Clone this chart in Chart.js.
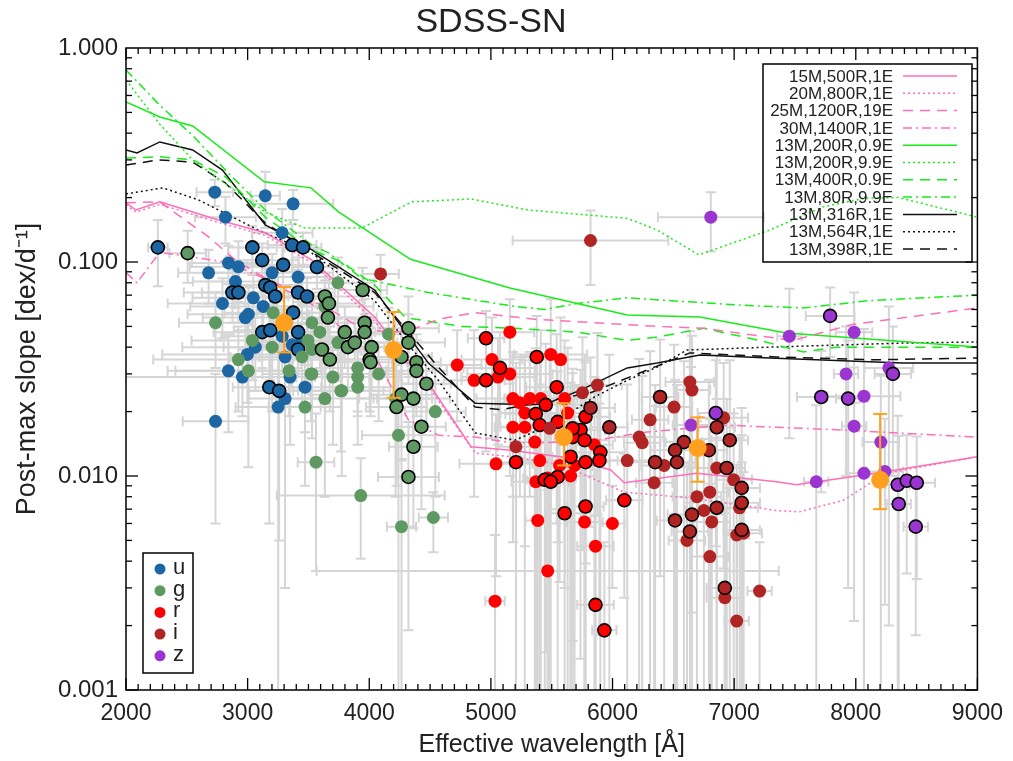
<!DOCTYPE html>
<html>
<head>
<meta charset="utf-8">
<script src="https://cdn.jsdelivr.net/npm/chart.js@4/dist/chart.umd.min.js"></script>
<style>
html,body{margin:0;padding:0;background:#fff;}
#c{display:block;}
</style>
</head>
<body>
<canvas id="c" width="1013" height="761"></canvas>
<script>
// ---------------- DATA ----------------
const titleText = 'SDSS-SN';
const xTitle = 'Effective wavelength [Å]';
const yTitle = 'Post-max slope [dex/d⁻¹]';
const xTickValues = [2000, 3000, 4000, 5000, 6000, 7000, 8000, 9000];
const xTickLabels = ['2000', '3000', '4000', '5000', '6000', '7000', '8000', '9000'];
const yTickValues = [0.001, 0.01, 0.1, 1];
const yTickLabels = ['0.001', '0.010', '0.100', '1.000'];

// band points: [wavelength, slope, wavelength error, slope error, ringed]
const uBand = [
 [2730,0.212,150,0.03,0],[3145,0.204,120,0.06,0],[3374,0.187,330,0.03,0],[2818,0.162,250,0.04,0],
 [2262,0.117,80,0.04,1],[3039,0.117,200,0.03,1],[3120,0.102,300,0.02,1],[3284,0.137,250,0.04,0],
 [3366,0.120,200,0.03,1],[3456,0.117,150,0.02,1],[3570,0.0947,200,0.02,1],[3292,0.097,300,0.02,1],
 [3202,0.089,500,0.02,0],[2924,0.095,400,0.03,0],[2842,0.099,300,0.02,0],[2679,0.089,250,0.025,0],
 [2900,0.081,350,0.02,0],[2875,0.072,400,0.02,1],[2924,0.072,300,0.02,1],[2793,0.064,450,0.02,0],
 [3047,0.068,500,0.02,0],[3145,0.078,300,0.015,1],[3186,0.076,250,0.015,1],[3227,0.069,400,0.02,1],
 [3415,0.072,300,0.02,1],[3488,0.069,200,0.015,1],[3415,0.085,250,0.02,0],[3128,0.062,600,0.02,0],
 [3006,0.057,500,0.02,0],[2981,0.055,350,0.015,0],[3374,0.058,300,0.02,1],[3120,0.047,400,0.015,1],
 [3186,0.048,300,0.02,1],[3284,0.045,500,0.015,0],[3415,0.047,250,0.015,1],[3447,0.043,400,0.02,0],
 [3063,0.040,600,0.015,0],[3366,0.041,300,0.015,0],[3415,0.039,350,0.01,1],[3308,0.036,450,0.015,0],
 [2998,0.037,700,0.015,0],[2842,0.031,500,0.015,0],[2957,0.029,1200,0.01,0],[3178,0.026,300,0.02,1],
 [3259,0.025,250,0.02,1],[3349,0.029,400,0.015,0],[3308,0.023,300,0.02,0],[3251,0.021,350,0.02,0],
 [3472,0.026,300,0.01,0],[2736,0.018,270,0.012,0]
];
const gBand = [
 [2507,0.110,150,0.03,1],[2736,0.052,300,0.02,0],[3210,0.058,400,0.02,0],[3496,0.043,300,0.015,0],
 [3039,0.043,500,0.015,0],[3202,0.040,400,0.02,0],[3447,0.036,350,0.015,0],[3529,0.039,300,0.015,0],
 [2924,0.035,700,0.015,0],[3006,0.031,600,0.02,0],[3472,0.021,300,0.012,0],[3635,0.023,400,0.015,0],
 [3529,0.030,350,0.015,0],[3701,0.029,300,0.015,0],[3774,0.025,400,0.015,0],[3905,0.026,300,0.012,0],
 [3905,0.029,350,0.01,0],[3635,0.069,300,0.02,1],[3660,0.055,400,0.02,1],[3799,0.047,250,0.015,1],
 [3824,0.040,300,0.015,1],[3962,0.052,250,0.015,1],[3962,0.047,300,0.01,1],[4020,0.040,250,0.015,1],
 [3611,0.039,350,0.015,1],[3676,0.035,300,0.015,1],[4003,0.035,300,0.015,1],[3946,0.074,200,0.02,1],
 [3881,0.042,350,0.012,1],[3742,0.080,300,0.025,0],[3635,0.062,400,0.02,0],[3529,0.052,350,0.015,0],
 [3594,0.047,300,0.015,0],[3742,0.042,250,0.012,0],[3905,0.032,300,0.012,0],[3668,0.064,250,0.02,1],
 [4011,0.034,300,0.015,1],[4322,0.049,250,0.02,1],[4322,0.042,300,0.015,1],[4159,0.046,200,0.015,0],
 [4265,0.036,250,0.015,1],[4388,0.034,200,0.012,1],[4388,0.031,250,0.012,1],[4470,0.027,200,0.01,1],
 [3521,0.030,400,0.012,0],[4077,0.030,300,0.012,0],[3766,0.025,350,0.012,0],[4216,0.023,300,0.015,0],
 [4265,0.024,250,0.012,1],[4363,0.023,300,0.01,1],[4224,0.021,250,0.012,1],[4543,0.020,250,0.012,0],
 [4429,0.017,200,0.01,1],[4240,0.0155,300,0.015,0],[4363,0.0137,200,0.008,1],[3562,0.0116,150,0.008,0],
 [4322,0.0099,250,0.008,1],[3930,0.0081,690,0.004,0],[4527,0.0064,120,0.002,0],[4265,0.0058,120,0.006,0],
 [3341,0.031,300,0.012,0]
];
const rBand = [
 [4960,0.044,150,0.015,1],[5156,0.047,200,0.02,0],[4723,0.033,200,0.015,0],[4862,0.028,250,0.02,0],
 [4960,0.028,200,0.015,1],[5009,0.035,250,0.02,0],[5075,0.032,300,0.015,1],[5156,0.030,350,0.02,0],
 [5058,0.029,300,0.015,0],[5377,0.036,200,0.02,1],[5492,0.037,300,0.03,0],[5573,0.035,200,0.02,0],
 [5541,0.026,250,0.02,1],[5181,0.023,300,0.015,0],[5320,0.023,200,0.015,0],[5410,0.023,300,0.025,0],
 [5238,0.022,200,0.014,0],[5369,0.0195,250,0.02,1],[5451,0.0215,300,0.02,1],[5279,0.0197,200,0.015,0],
 [5181,0.0169,150,0.012,0],[5279,0.0169,200,0.02,0],[5402,0.0173,150,0.02,1],[5549,0.0179,200,0.013,1],
 [5631,0.0197,250,0.02,0],[5737,0.0164,200,0.015,1],[5672,0.0152,150,0.015,1],[5770,0.0147,200,0.02,1],
 [5851,0.0140,150,0.015,0],[5900,0.0129,200,0.015,1],[5892,0.0118,150,0.01,1],[5778,0.0116,200,0.015,1],
 [5688,0.0112,150,0.015,0],[5565,0.0112,200,0.008,0],[5206,0.0116,150,0.012,1],[5042,0.0114,300,0.008,0],
 [5402,0.0118,150,0.015,0],[5778,0.0189,200,0.015,1],[5467,0.0098,200,0.015,0],[5549,0.0099,150,0.012,1],
 [5606,0.023,250,0.02,0],[5672,0.0167,150,0.015,1],[5361,0.0144,200,0.02,0],[5655,0.0123,150,0.015,1],
 [5443,0.0096,150,0.012,1],[5369,0.0094,200,0.015,0],[5492,0.0094,150,0.01,1],[5655,0.0100,200,0.012,0],
 [5606,0.0067,150,0.008,1],[5778,0.0072,150,0.008,1],[5385,0.0062,100,0.008,0],[5770,0.0061,150,0.008,0],
 [5999,0.0060,100,0.003,0],[5860,0.0047,150,0.006,0],[5467,0.0036,1900,0.005,0],[5034,0.0026,80,0.0027,0],
 [5860,0.0025,150,0.004,1],[5933,0.0019,100,0.003,1],[6097,0.0077,150,0.005,1]
];
const iBand = [
 [4093,0.088,150,0.02,0],[5819,0.126,640,0.048,0],[5819,0.0208,200,0.015,1],[5974,0.0169,150,0.02,1],
 [5876,0.0266,200,0.02,0],[5753,0.0245,150,0.02,0],[5483,0.0167,200,0.02,0],[5206,0.0137,150,0.02,0],
 [6121,0.0118,200,0.015,0],[6244,0.0143,150,0.015,0],[6219,0.0152,200,0.02,0],[6309,0.0183,150,0.02,0],
 [6350,0.0116,200,0.015,1],[6391,0.0234,150,0.02,1],[6506,0.021,150,0.02,0],[6636,0.0275,200,0.02,0],
 [6653,0.0252,150,0.02,0],[6857,0.0169,150,0.02,1],[6914,0.0187,200,0.015,0],[6587,0.0144,150,0.02,1],
 [6514,0.0132,200,0.015,1],[6530,0.0116,150,0.015,1],[6792,0.0132,150,0.015,1],[6424,0.0112,200,0.012,0],
 [6342,0.0093,150,0.012,0],[6964,0.0147,150,0.02,1],[6857,0.0109,200,0.012,0],[6939,0.0109,150,0.012,1],
 [6996,0.0096,150,0.01,0],[7062,0.0088,150,0.012,1],[7062,0.0075,150,0.008,1],[7045,0.0071,150,0.008,0],
 [7062,0.0056,150,0.006,1],[7021,0.0053,100,0.006,0],[7078,0.0054,150,0.005,0],[6800,0.0084,150,0.01,0],
 [6694,0.0080,200,0.01,0],[6751,0.0069,150,0.008,0],[6653,0.0066,200,0.008,1],[6857,0.0071,150,0.008,1],
 [6816,0.0061,150,0.007,0],[6514,0.0062,150,0.007,1],[6636,0.0055,150,0.006,1],[6612,0.0050,150,0.006,0],
 [6800,0.0042,150,0.005,0],[6923,0.0030,150,0.004,1],[6923,0.0027,150,0.004,0],[7021,0.0021,100,0.003,0],
 [7209,0.0029,100,0.002,0]
];
const zBand = [
 [6808,0.162,435,0.05,0],[7789,0.056,200,0.02,1],[7454,0.045,100,0.03,0],[7986,0.047,150,0.025,0],
 [7920,0.030,100,0.02,0],[8272,0.032,200,0.03,0],[8305,0.030,150,0.02,1],[7716,0.0234,200,0.015,1],
 [7937,0.0230,100,0.02,1],[8067,0.0236,300,0.025,0],[7986,0.0171,100,0.015,0],[8206,0.0144,150,0.015,0],
 [7675,0.0094,100,0.012,0],[8067,0.0103,150,0.012,0],[8239,0.0105,150,0.008,0],[8345,0.0091,100,0.01,1],
 [8419,0.0095,100,0.006,1],[8501,0.0093,150,0.006,1],[8353,0.0074,100,0.008,1],[8493,0.0058,100,0.004,1],
 [6849,0.0197,150,0.015,1],[6645,0.0173,150,0.015,0]
];
// band averages
const avgWave  = [3300, 4200, 5600, 6700, 8200];
const avgSlope = [0.052, 0.0388, 0.0152, 0.0135, 0.0096];
const avgLow   = [0.0378, 0.0232, 0.0112, 0.0094, 0.0070];
const avgHigh  = [0.0765, 0.0584, 0.0219, 0.0188, 0.0195];

// model curves: [wavelength, slope]
const m15M500R1E = [[2000,0.189],[2082,0.175],[2278,0.191],[2760,0.157],[3145,0.137],[3529,0.102],[4044,0.0553],[4298,0.036],[4486,0.0272],[4837,0.0137],[5165,0.0132],[5573,0.0123],[5982,0.0107],[6097,0.0093],[6694,0.0103],[7348,0.0094],[7511,0.0091],[8165,0.0103],[9000,0.0123]];
const m20M800R1E = [[2000,0.185],[2082,0.171],[2278,0.186],[2760,0.153],[3145,0.133],[3529,0.099],[4044,0.053],[4298,0.0345],[4486,0.0263],[4870,0.0128],[5222,0.0122],[5573,0.0113],[6097,0.0084],[6636,0.0079],[7348,0.0069],[7536,0.0068],[7896,0.0077],[8247,0.0103],[9000,0.0123]];
const m25M1200R19E = [[2000,0.189],[2278,0.191],[2679,0.131],[2900,0.102],[3308,0.074],[3635,0.062],[3962,0.048],[4298,0.047],[4568,0.054],[4870,0.058],[5361,0.054],[5851,0.052],[6367,0.050],[6751,0.049],[7480,0.043],[7970,0.051],[9000,0.061]];
const m30M1400R1E = [[2000,0.089],[2090,0.080],[2278,0.111],[2818,0.100],[3366,0.074],[3693,0.054],[4077,0.034],[4322,0.0183],[4568,0.0155],[4870,0.0152],[5165,0.0143],[5770,0.0144],[6260,0.016],[6914,0.0173],[7348,0.0169],[7896,0.0164],[9000,0.0152]];
const m13M200R09E = [[2000,0.560],[2278,0.476],[2548,0.432],[3137,0.237],[3521,0.222],[3750,0.171],[4339,0.103],[5156,0.0756],[6121,0.0565],[6718,0.0553],[7430,0.0466],[9000,0.0401]];
const m13M200R99E = [[2000,0.71],[2278,0.44],[2548,0.30],[2834,0.229],[3145,0.171],[3472,0.144],[3938,0.144],[4347,0.191],[4837,0.197],[5304,0.175],[6121,0.160],[6367,0.141],[6710,0.108],[7291,0.141],[7732,0.181],[8084,0.199],[8353,0.20],[9000,0.162]];
const m13M400R09E = [[2000,0.306],[2278,0.31],[2548,0.30],[2818,0.25],[3145,0.162],[3529,0.114],[3774,0.100],[4044,0.078],[4298,0.055],[4756,0.050],[5197,0.049],[5712,0.047],[6121,0.043],[6367,0.0446],[6751,0.049],[7209,0.043],[7569,0.038],[7838,0.040],[9000,0.040]];
const m13M80R99E = [[2000,0.79],[2278,0.54],[2548,0.39],[2834,0.263],[3145,0.175],[3529,0.12],[3668,0.11],[3938,0.084],[4486,0.072],[5197,0.062],[5443,0.060],[5712,0.064],[6121,0.068],[7021,0.063],[7569,0.061],[8108,0.066],[9000,0.070]];
const m13M316R1E = [[2000,0.334],[2090,0.323],[2278,0.364],[2548,0.334],[2793,0.269],[3145,0.149],[3529,0.114],[4044,0.074],[4486,0.0337],[4870,0.0219],[5328,0.0215],[5467,0.0219],[5737,0.0252],[6121,0.032],[6367,0.0337],[6718,0.0368],[7291,0.0356],[8386,0.0337],[9000,0.0337]];
const m13M564R1E = [[2000,0.208],[2303,0.222],[2597,0.195],[3088,0.141],[3529,0.110],[4044,0.066],[4322,0.041],[4568,0.028],[4870,0.0159],[5197,0.0147],[5524,0.0177],[5851,0.0234],[6121,0.028],[6367,0.0323],[6612,0.0388],[7291,0.040],[8386,0.0418],[9000,0.0423]];
const m13M398R1E = [[2000,0.284],[2270,0.30],[2548,0.293],[2818,0.234],[3145,0.152],[3529,0.111],[4044,0.072],[4568,0.0323],[4870,0.021],[5083,0.0204],[5819,0.0245],[6636,0.0376],[7348,0.036],[8165,0.0349],[9000,0.0356]];

const modelNames = ['15M,500R,1E','20M,800R,1E','25M,1200R,19E','30M,1400R,1E','13M,200R,0.9E','13M,200R,9.9E','13M,400R,0.9E','13M,80R,9.9E','13M,316R,1E','13M,564R,1E','13M,398R,1E'];
const modelData = [m15M500R1E,m20M800R1E,m25M1200R19E,m30M1400R1E,m13M200R09E,m13M200R99E,m13M400R09E,m13M80R99E,m13M316R1E,m13M564R1E,m13M398R1E];
const bandNames = ['u','g','r','i','z'];

// ---------------- STYLES ----------------
const PINK = '#ff6eb8', GREEN = '#18ec18', BLACK = '#111111';
const DOT = [2,3], DASH = [10,7], DASHDOT = [9,4,2,4];
const modelStyles = [
  [PINK, []],[PINK, DOT],[PINK, DASH],[PINK, DASHDOT],
  [GREEN, []],[GREEN, DOT],[GREEN, DASH],[GREEN, DASHDOT],
  [BLACK, []],[BLACK, DOT],[BLACK, DASH]
];
const bandColors = ['#1c67a3','#5f9962','#ff0000','#b02424','#9a35d2'];
const ORANGE = '#ffa11e';
const FONT = "'Liberation Sans', Arial, Helvetica, sans-serif";

// ---------------- DATASETS ----------------
const datasets = [];
datasets.push({
  label: 'avg', type: 'scatter', isAvg: true, order: 0,
  data: avgWave.map((w, k) => ({x: w, y: avgSlope[k], lo: avgLow[k], hi: avgHigh[k]})),
  pointRadius: 9, pointBackgroundColor: ORANGE, pointBorderWidth: 0, pointHoverRadius: 9
});
[uBand, gBand, rBand, iBand, zBand].forEach((band, b) => {
  [0, 1].forEach(ring => {
    datasets.push({
      label: bandNames[b] + (ring ? '-ring' : ''), type: 'scatter', errorBars: true, order: 2 + (4 - b) * 2 + (1 - ring),
      data: band.filter(r => r[4] === ring).map(r => ({x: r[0], y: r[1], xe: r[2], ye: r[3]})),
      pointRadius: 6.5, pointHoverRadius: 6.5,
      pointBackgroundColor: bandColors[b],
      pointBorderColor: ring ? '#000' : bandColors[b],
      pointBorderWidth: ring ? 1.6 : 0
    });
  });
});
modelData.forEach((arr, k) => {
  datasets.push({
    label: modelNames[k], type: 'line', order: 30 + k, isModel: true,
    data: arr.map(p => ({x: p[0], y: p[1]})),
    borderColor: modelStyles[k][0], borderDash: modelStyles[k][1], borderWidth: 1.5,
    pointRadius: 0, fill: false, tension: 0
  });
});

// ---------------- PLUGINS ----------------
function seg(ctx, x1, y1, x2, y2) { ctx.beginPath(); ctx.moveTo(x1, y1); ctx.lineTo(x2, y2); ctx.stroke(); }

const errorBarPlugin = {
  id: 'errorBars',
  beforeDatasetsDraw(chart) {
    const {ctx, chartArea: a} = chart; const xs = chart.scales.x, ys = chart.scales.y;
    ctx.save();
    ctx.beginPath(); ctx.rect(a.left, a.top, a.right - a.left, a.bottom - a.top); ctx.clip();
    ctx.strokeStyle = '#d5d5d5'; ctx.lineWidth = 2;
    const c = 5;
    chart.data.datasets.forEach(ds => {
      if (!ds.errorBars) return;
      ds.data.forEach(p => {
        const px = xs.getPixelForValue(p.x), py = ys.getPixelForValue(p.y);
        const xl = xs.getPixelForValue(p.x - p.xe), xr = xs.getPixelForValue(p.x + p.xe);
        seg(ctx, xl, py, xr, py); seg(ctx, xl, py - c, xl, py + c); seg(ctx, xr, py - c, xr, py + c);
        const yh = ys.getPixelForValue(p.y + p.ye);
        const lo = p.y - p.ye;
        const yl = lo > 0 ? ys.getPixelForValue(lo) : a.bottom + 20;
        seg(ctx, px, yh, px, yl); seg(ctx, px - c, yh, px + c, yh);
        if (lo > 0) seg(ctx, px - c, yl, px + c, yl);
      });
    });
    ctx.restore();
  },
  beforeDatasetDraw(chart, args) {
    const ds = chart.data.datasets[args.index];
    if (!ds.isAvg) return;
    const {ctx} = chart; const xs = chart.scales.x, ys = chart.scales.y;
    ctx.save(); ctx.strokeStyle = ORANGE; ctx.lineWidth = 2;
    ds.data.forEach(p => {
      const px = xs.getPixelForValue(p.x), yl = ys.getPixelForValue(p.lo), yh = ys.getPixelForValue(p.hi);
      seg(ctx, px, yh, px, yl); seg(ctx, px - 7, yh, px + 7, yh); seg(ctx, px - 7, yl, px + 7, yl);
    });
    ctx.restore();
  }
};

const framePlugin = {
  id: 'frame',
  afterDraw(chart) {
    const {ctx, chartArea: a} = chart; const xs = chart.scales.x, ys = chart.scales.y;
    ctx.save();
    ctx.strokeStyle = '#000'; ctx.lineWidth = 1.5;
    ctx.strokeRect(a.left, a.top, a.right - a.left, a.bottom - a.top);
    ctx.lineWidth = 1.3;
    for (let w = 2000; w <= 9000; w += 100) {
      const px = xs.getPixelForValue(w);
      const L = (w % 1000 === 0) ? 12 : 6;
      seg(ctx, px, a.bottom, px, a.bottom - L); seg(ctx, px, a.top, px, a.top + L);
    }
    for (let e = -3; e < 0; e++) {
      for (let m = 1; m <= 9; m++) {
        const v = m * Math.pow(10, e);
        const py = ys.getPixelForValue(v);
        const L = (m === 1) ? 12 : 6;
        seg(ctx, a.left, py, a.left + L, py); seg(ctx, a.right, py, a.right - L, py);
      }
    }
    // model legend (top right)
    ctx.lineWidth = 1.5; ctx.strokeStyle = '#000';
    ctx.strokeRect(763, 64, 209, 198);
    ctx.font = "17px " + FONT; ctx.textAlign = 'right'; ctx.textBaseline = 'middle'; ctx.fillStyle = '#222';
    modelNames.forEach((n, k) => {
      const yy = 76 + k * 17.3;
      ctx.fillText(n, 893, yy + 1);
      ctx.save(); ctx.strokeStyle = modelStyles[k][0]; ctx.setLineDash(modelStyles[k][1]); ctx.lineWidth = 1.5;
      seg(ctx, 903, yy, 957, yy); ctx.restore();
    });
    // band legend (bottom left)
    ctx.strokeStyle = '#000'; ctx.lineWidth = 1.5;
    ctx.strokeRect(143, 553, 50, 120);
    ctx.font = "22px " + FONT; ctx.textAlign = 'left'; ctx.fillStyle = '#222';
    bandNames.forEach((n, k) => {
      const yy = 569 + k * 21.7;
      ctx.beginPath(); ctx.arc(160, yy, 5.5, 0, Math.PI * 2); ctx.fillStyle = bandColors[k]; ctx.fill();
      ctx.fillStyle = '#222'; ctx.fillText(n, 173, yy - 1);
    });
    ctx.restore();
  }
};

// ---------------- CHART ----------------
new Chart(document.getElementById('c'), {
  type: 'scatter',
  data: {datasets},
  options: {
    responsive: false, animation: false, devicePixelRatio: 1,
    layout: {padding: {left: 0, right: 31, top: 0, bottom: 0}},
    plugins: {
      legend: {display: false}, tooltip: {enabled: false},
      title: {display: true, text: titleText, color: '#222', font: {family: FONT, size: 34, weight: 'normal'}, padding: {top: 2, bottom: 5.2}}
    },
    scales: {
      x: {
        type: 'linear', min: 2000, max: 9000,
        afterFit(s) { s.height = 71; },
        afterBuildTicks(s) { s.ticks = xTickValues.map(v => ({value: v})); },
        ticks: {padding: 10, color: '#222', font: {family: FONT, size: 23}, maxRotation: 0,
          callback: (v) => xTickLabels[xTickValues.indexOf(v)]},
        grid: {display: false, drawTicks: false}, border: {display: false},
        title: {display: true, text: xTitle, color: '#222', font: {family: FONT, size: 25}, padding: {top: 0, bottom: 1}}
      },
      y: {
        type: 'logarithmic', min: 0.001, max: 1,
        afterFit(s) { s.width = 126; },
        afterBuildTicks(s) { s.ticks = yTickValues.map(v => ({value: v})); },
        ticks: {padding: 8, color: '#222', font: {family: FONT, size: 24},
          callback: (v) => { const k = yTickValues.findIndex(t => Math.abs(t - v) < t * 1e-6); return k >= 0 ? yTickLabels[k] : ''; }},
        grid: {display: false, drawTicks: false}, border: {display: false},
        title: {display: true, text: yTitle, color: '#222', font: {family: FONT, size: 27}, padding: {top: 11, bottom: 0}}
      }
    }
  },
  plugins: [errorBarPlugin, framePlugin]
});
</script>
</body>
</html>
